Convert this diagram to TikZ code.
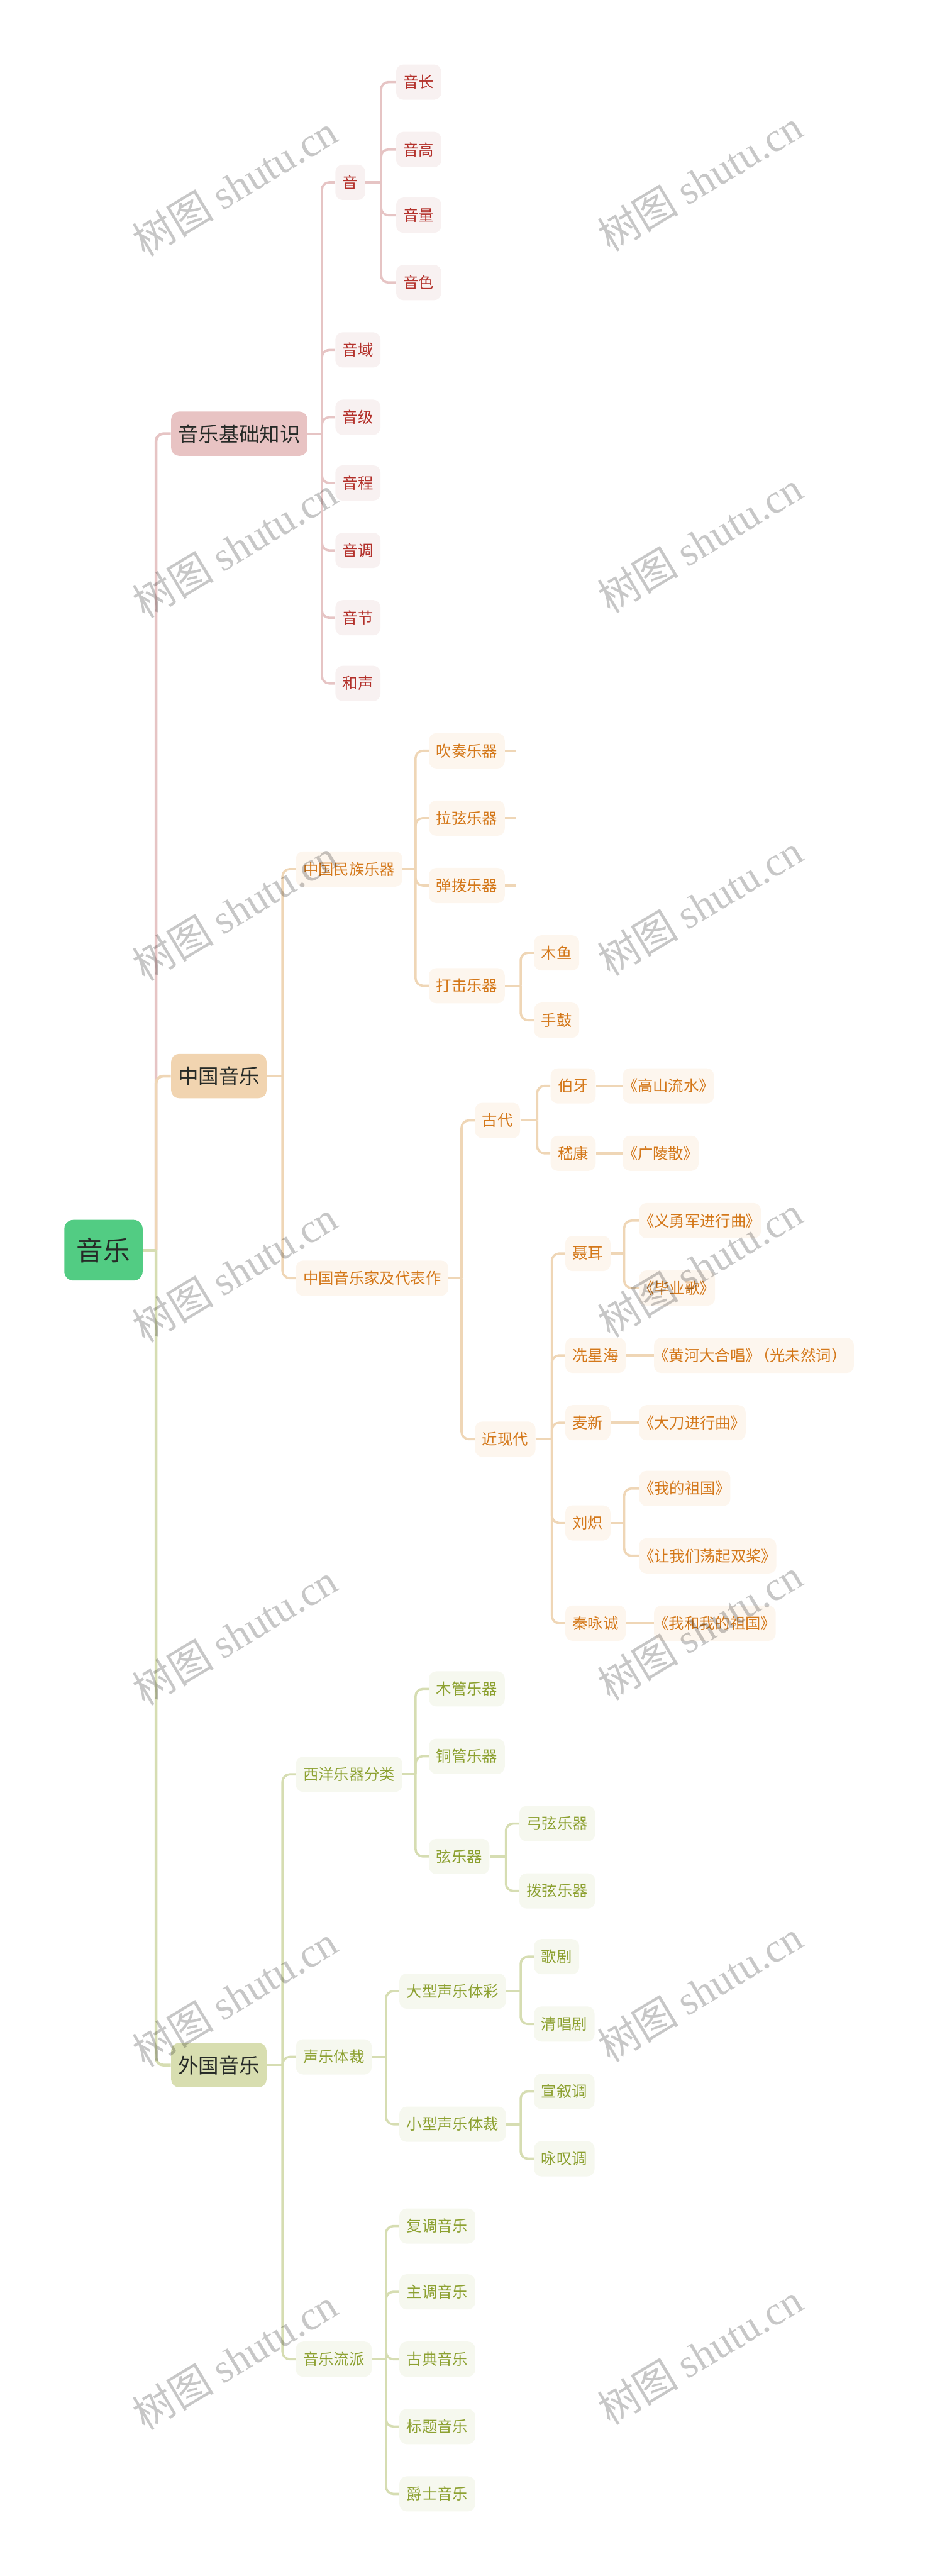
\documentclass[tikz,border=0pt]{standalone}
\usepackage{fontspec}
\setmainfont{Noto Sans CJK SC}[RawFeature=+palt]
\newfontfamily\fullcjk{Noto Sans CJK SC}
\newfontfamily\wmserif{Liberation Serif}

\definecolor{rootgreen}{HTML}{52CC83}
\definecolor{darktext}{HTML}{262A27}
\definecolor{pinkmain}{HTML}{E8C3C3}
\definecolor{pinkleaf}{HTML}{F8F1F1}
\definecolor{pinkline}{HTML}{E6C4C4}
\definecolor{pinktext}{HTML}{B3302A}
\definecolor{tanmain}{HTML}{F1D4B0}
\definecolor{tanleaf}{HTML}{FDF6EE}
\definecolor{tanline}{HTML}{EFD6B6}
\definecolor{tantext}{HTML}{D4781A}
\definecolor{greenmain}{HTML}{D8DEB0}
\definecolor{greenleaf}{HTML}{F6F8EF}
\definecolor{greenline}{HTML}{D6DDB2}
\definecolor{greentext}{HTML}{8DA131}

\begin{document}
\begin{tikzpicture}[x=0.04523cm, y=-0.04523cm,
  rootbox/.style={anchor=west, fill=rootgreen, rounded corners=0.25cm, minimum height=1.67cm,
    inner xsep=0.34cm, text=darktext, font=\fontsize{21pt}{24pt}\selectfont},
  mainbox/.style={anchor=west, rounded corners=0.22cm, minimum height=1.22cm,
    inner xsep=0.19cm, text=darktext, font=\fontsize{16pt}{19pt}\selectfont},
  subbox/.style={anchor=west, rounded corners=0.2cm, minimum height=0.97cm,
    inner xsep=0.2cm, font=\fontsize{12pt}{14pt}\selectfont},
  pbox/.style={subbox, fill=pinkleaf, text=pinktext},
  tbox/.style={subbox, fill=tanleaf, text=tantext},
  gbox/.style={subbox, fill=greenleaf, text=greentext},
  link/.style={line width=1.8pt},
  plink/.style={link, draw=pinkline},
  tlink/.style={link, draw=tanline},
  glink/.style={link, draw=greenline},
  trunk/.style={line width=2.2pt},
  fork/.style={rounded corners=0.2cm},
  wmark/.style={rotate=31, text=black, text opacity=0.22}
]
\useasboundingbox (0,0) rectangle (566,1568);

% root and main branches
\node[rootbox] (root) at (39,761) {音乐};
\node[mainbox, fill=pinkmain] (basic) at (104,264) {音乐基础知识};
\node[mainbox, fill=tanmain] (chn) at (104,655) {中国音乐};
\node[mainbox, fill=greenmain] (frn) at (104,1257) {外国音乐};

% music basics
\node[pbox] (yin) at (204,111) {音};
\node[pbox] (yinyu) at (204,213) {音域};
\node[pbox] (yinji) at (204,254) {音级};
\node[pbox] (yincheng) at (204,294) {音程};
\node[pbox] (yindiao) at (204,335) {音调};
\node[pbox] (yinjie) at (204,376) {音节};
\node[pbox] (hesheng) at (204,416) {和声};
\node[pbox] (yinchang) at (241,50) {音长};
\node[pbox] (yingao) at (241,91) {音高};
\node[pbox] (yinliang) at (241,131) {音量};
\node[pbox] (yinse) at (241,172) {音色};

% chinese music
\node[tbox] (minzu) at (180,529) {中国民族乐器};
\node[tbox] (jia) at (180,778) {中国音乐家及代表作};
\node[tbox] (chuizou) at (261,457) {吹奏乐器};
\node[tbox] (laxian) at (261,498) {拉弦乐器};
\node[tbox] (tanbo) at (261,539) {弹拨乐器};
\node[tbox] (daji) at (261,600) {打击乐器};
\node[tbox] (muyu) at (325,580) {木鱼};
\node[tbox] (shougu) at (325,621) {手鼓};
\node[tbox] (gudai) at (289,682) {古代};
\node[tbox] (jinxian) at (289,876) {近现代};
\node[tbox] (boya) at (335,661) {伯牙};
\node[tbox] (jikang) at (335,702) {嵇康};
\node[tbox] (gaoshan) at (379,661) {《高山流水》};
\node[tbox] (guangling) at (379,702) {《广陵散》};
\node[tbox] (nie) at (344,763) {聂耳};
\node[tbox] (xian) at (344,825) {冼星海};
\node[tbox] (maixin) at (344,866) {麦新};
\node[tbox] (liuchi) at (344,927) {刘炽};
\node[tbox] (qin) at (344,988) {秦咏诚};
\node[tbox] (yiyong) at (389,743) {《义勇军进行曲》};
\node[tbox] (biye) at (389,784) {《毕业歌》};
\node[tbox] (huanghe) at (398,825) {《黄河大合唱》\hspace{0.1em}{\fullcjk （光未然词）}};
\node[tbox] (dadao) at (389,866) {《大刀进行曲》};
\node[tbox] (zuguo) at (389,906) {《我的祖国》};
\node[tbox] (shuangjiang) at (389,947) {《让我们荡起双桨》};
\node[tbox] (wohe) at (398,988) {《我和我的祖国》};

% foreign music
\node[gbox] (xiyang) at (180,1080) {西洋乐器分类};
\node[gbox] (shengyue) at (180,1252) {声乐体裁};
\node[gbox] (liupai) at (180,1436) {音乐流派};
\node[gbox] (muguan) at (261,1028) {木管乐器};
\node[gbox] (tongguan) at (261,1069) {铜管乐器};
\node[gbox] (xianyue) at (261,1130) {弦乐器};
\node[gbox] (gongxian) at (316,1110) {弓弦乐器};
\node[gbox] (boxian) at (316,1151) {拨弦乐器};
\node[gbox] (daxing) at (243,1212) {大型声乐体彩};
\node[gbox] (xiaoxing) at (243,1293) {小型声乐体裁};
\node[gbox] (geju) at (325,1191) {歌剧};
\node[gbox] (qingchang) at (325,1232) {清唱剧};
\node[gbox] (xuanxu) at (325,1273) {宣叙调};
\node[gbox] (yongtan) at (325,1314) {咏叹调};
\node[gbox] (fudiao) at (243,1355) {复调音乐};
\node[gbox] (zhudiao) at (243,1395) {主调音乐};
\node[gbox] (gudian) at (243,1436) {古典音乐};
\node[gbox] (biaoti) at (243,1477) {标题音乐};
\node[gbox] (jueshi) at (243,1518) {爵士音乐};

% fork points
\coordinate (b-root) at (95,761);
\coordinate (b-basic) at (196,264);
\coordinate (b-yin) at (232,111);
\coordinate (b-chn) at (172,655);
\coordinate (b-minzu) at (253,529);
\coordinate (b-daji) at (317,600);
\coordinate (b-jia) at (281,778);
\coordinate (b-gudai) at (327,682);
\coordinate (b-jinxian) at (336,876);
\coordinate (b-nie) at (380,763);
\coordinate (b-liuchi) at (380,927);
\coordinate (b-frn) at (172,1257);
\coordinate (b-xiyang) at (253,1080);
\coordinate (b-xianyue) at (308,1130);
\coordinate (b-shengyue) at (235,1252);
\coordinate (b-daxing) at (317,1212);
\coordinate (b-xiaoxing) at (317,1293);
\coordinate (b-liupai) at (235,1436);

% trunk
\path[draw=pinkline,trunk,fork] (b-root) |- (basic.west);
\path[draw=tanline,trunk,fork] (b-root) |- (chn.west);
\path[draw=greenline,trunk,fork] (b-root) |- (frn.west);
\path[draw=greenline,trunk] (root.east) -- (b-root);

% music basics links
\path[plink] (basic.east) -- (b-basic);
\path[plink,fork] (b-basic) |- (yin.west);
\path[plink,fork] (b-basic) |- (yinyu.west);
\path[plink,fork] (b-basic) |- (yinji.west);
\path[plink,fork] (b-basic) |- (yincheng.west);
\path[plink,fork] (b-basic) |- (yindiao.west);
\path[plink,fork] (b-basic) |- (yinjie.west);
\path[plink,fork] (b-basic) |- (hesheng.west);
\path[plink] (yin.east) -- (b-yin);
\path[plink,fork] (b-yin) |- (yinchang.west);
\path[plink,fork] (b-yin) |- (yingao.west);
\path[plink,fork] (b-yin) |- (yinliang.west);
\path[plink,fork] (b-yin) |- (yinse.west);

% chinese music links
\path[tlink] (chn.east) -- (b-chn);
\path[tlink,fork] (b-chn) |- (minzu.west);
\path[tlink,fork] (b-chn) |- (jia.west);
\path[tlink] (minzu.east) -- (b-minzu);
\path[tlink,fork] (b-minzu) |- (chuizou.west);
\path[tlink,fork] (b-minzu) |- (laxian.west);
\path[tlink,fork] (b-minzu) |- (tanbo.west);
\path[tlink,fork] (b-minzu) |- (daji.west);
\path[tlink] (chuizou.east) -- ++(7,0) coordinate (chuizou-end);
\path[tlink] (laxian.east) -- ++(7,0) coordinate (laxian-end);
\path[tlink] (tanbo.east) -- ++(7,0) coordinate (tanbo-end);
\path[tlink] (daji.east) -- (b-daji);
\path[tlink,fork] (b-daji) |- (muyu.west);
\path[tlink,fork] (b-daji) |- (shougu.west);
\path[tlink] (jia.east) -- (b-jia);
\path[tlink,fork] (b-jia) |- (gudai.west);
\path[tlink,fork] (b-jia) |- (jinxian.west);
\path[tlink] (gudai.east) -- (b-gudai);
\path[tlink,fork] (b-gudai) |- (boya.west);
\path[tlink,fork] (b-gudai) |- (jikang.west);
\path[tlink] (boya) -- (gaoshan);
\path[tlink] (jikang) -- (guangling);
\path[tlink] (jinxian.east) -- (b-jinxian);
\path[tlink,fork] (b-jinxian) |- (nie.west);
\path[tlink,fork] (b-jinxian) |- (xian.west);
\path[tlink,fork] (b-jinxian) |- (maixin.west);
\path[tlink,fork] (b-jinxian) |- (liuchi.west);
\path[tlink,fork] (b-jinxian) |- (qin.west);
\path[tlink] (nie.east) -- (b-nie);
\path[tlink,fork] (b-nie) |- (yiyong.west);
\path[tlink,fork] (b-nie) |- (biye.west);
\path[tlink] (xian) -- (huanghe);
\path[tlink] (maixin) -- (dadao);
\path[tlink] (liuchi.east) -- (b-liuchi);
\path[tlink,fork] (b-liuchi) |- (zuguo.west);
\path[tlink,fork] (b-liuchi) |- (shuangjiang.west);
\path[tlink] (qin) -- (wohe);

% foreign music links
\path[glink] (frn.east) -- (b-frn);
\path[glink,fork] (b-frn) |- (xiyang.west);
\path[glink,fork] (b-frn) |- (shengyue.west);
\path[glink,fork] (b-frn) |- (liupai.west);
\path[glink] (xiyang.east) -- (b-xiyang);
\path[glink,fork] (b-xiyang) |- (muguan.west);
\path[glink,fork] (b-xiyang) |- (tongguan.west);
\path[glink,fork] (b-xiyang) |- (xianyue.west);
\path[glink] (xianyue.east) -- (b-xianyue);
\path[glink,fork] (b-xianyue) |- (gongxian.west);
\path[glink,fork] (b-xianyue) |- (boxian.west);
\path[glink] (shengyue.east) -- (b-shengyue);
\path[glink,fork] (b-shengyue) |- (daxing.west);
\path[glink,fork] (b-shengyue) |- (xiaoxing.west);
\path[glink] (daxing.east) -- (b-daxing);
\path[glink,fork] (b-daxing) |- (geju.west);
\path[glink,fork] (b-daxing) |- (qingchang.west);
\path[glink] (xiaoxing.east) -- (b-xiaoxing);
\path[glink,fork] (b-xiaoxing) |- (xuanxu.west);
\path[glink,fork] (b-xiaoxing) |- (yongtan.west);
\path[glink] (liupai.east) -- (b-liupai);
\path[glink,fork] (b-liupai) |- (fudiao.west);
\path[glink,fork] (b-liupai) |- (zhudiao.west);
\path[glink,fork] (b-liupai) |- (gudian.west);
\path[glink,fork] (b-liupai) |- (biaoti.west);
\path[glink,fork] (b-liupai) |- (jueshi.west);

% watermark
\foreach \wy [count=\i] in {113,333,554,774,995,1215,1436} {
  \node[wmark] (wm-l-\i) at (143,\wy) {\fontsize{32pt}{36pt}\selectfont 树图 \wmserif shutu.cn};
  \node[wmark] (wm-r-\i) at (426,\wy-3) {\fontsize{32pt}{36pt}\selectfont 树图 \wmserif shutu.cn};
}
\end{tikzpicture}
\end{document}
